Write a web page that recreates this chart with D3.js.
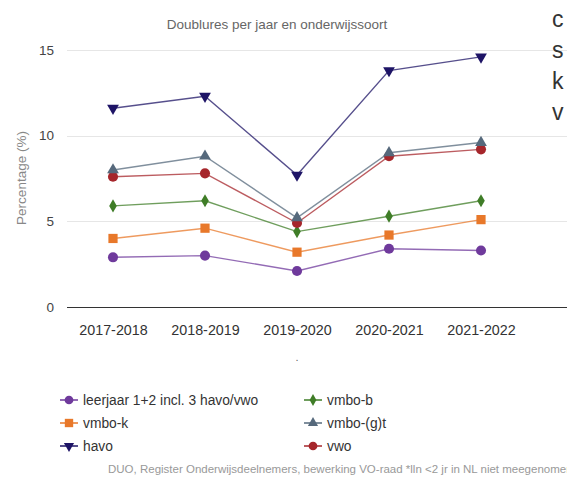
<!DOCTYPE html>
<html>
<head>
<meta charset="utf-8">
<script src="https://cdn.jsdelivr.net/npm/d3@7"></script>
<style>
  body { margin: 0; background: #fff; font-family: "Liberation Sans", Arial, sans-serif; }
  svg { display: block; }
</style>
</head>
<body>
<svg></svg>
<script>
// data
var years = ["2017-2018", "2018-2019", "2019-2020", "2020-2021", "2021-2022"];
var seriesNames = ["leerjaar 1+2 incl. 3 havo/vwo", "vmbo-b", "vmbo-k", "vmbo-(g)t", "havo", "vwo"];
var leerjaar = [2.9, 3.0, 2.1, 3.4, 3.3];
var vmboB = [5.9, 6.2, 4.4, 5.3, 6.2];
var vmboK = [4.0, 4.6, 3.2, 4.2, 5.1];
var vmboGt = [8.0, 8.8, 5.2, 9.0, 9.6];
var havo = [11.6, 12.3, 7.7, 13.8, 14.6];
var vwo = [7.6, 7.8, 4.9, 8.8, 9.2];
var yTicks = [0, 5, 10, 15];

var series = [
  { name: seriesNames[0], values: leerjaar, color: "#6f3a9c", shape: "circle" },
  { name: seriesNames[1], values: vmboB, color: "#3f7d27", shape: "diamond" },
  { name: seriesNames[2], values: vmboK, color: "#e8782a", shape: "square" },
  { name: seriesNames[3], values: vmboGt, color: "#56697c", shape: "up" },
  { name: seriesNames[4], values: havo, color: "#1e1466", shape: "down" },
  { name: seriesNames[5], values: vwo, color: "#a6262b", shape: "circle" }
];

var screen = { width: 567, height: 478 };
var margins = { top: 50, left: 67, right: 40, bottom: 171 };

var svg = d3.select("svg")
  .attr("width", screen.width)
  .attr("height", screen.height);

var xScale = d3.scalePoint()
  .domain(years)
  .range([margins.left, 527])
  .padding(0.5);

var yScale = d3.scaleLinear()
  .domain([0, 15])
  .range([307, 50]);

// title
svg.append("text")
  .attr("x", 277).attr("y", 29)
  .attr("text-anchor", "middle")
  .attr("font-size", 13.5)
  .attr("fill", "#666")
  .text("Doublures per jaar en onderwijssoort");

// gridlines
svg.append("g").selectAll("line")
  .data(yTicks)
  .enter()
  .append("line")
  .attr("x1", margins.left)
  .attr("x2", screen.width)
  .attr("y1", function(d) { return Math.round(yScale(d)) + 0.5; })
  .attr("y2", function(d) { return Math.round(yScale(d)) + 0.5; })
  .attr("stroke", function(d) { return d == 0 ? "#333" : "#e6e6e6"; })
  .attr("stroke-width", function(d) { return d == 0 ? 1.2 : 1; });

// y axis labels
var yAxis = d3.axisLeft(yScale).tickValues(yTicks).tickSize(0).tickPadding(0);
var yA = svg.append("g")
  .attr("transform", "translate(54,0)")
  .call(yAxis);
yA.select(".domain").remove();
yA.selectAll("text")
  .attr("font-family", "Liberation Sans, Arial, sans-serif")
  .attr("font-size", 13.5)
  .attr("fill", "#444");

svg.append("text")
  .attr("transform", "translate(26,178) rotate(-90)")
  .attr("text-anchor", "middle")
  .attr("font-size", 13.5)
  .attr("fill", "#888")
  .text("Percentage (%)");

// x axis labels
var xAxis = d3.axisBottom(xScale).tickSize(0).tickPadding(0);
var xA = svg.append("g")
  .attr("transform", "translate(0,325)")
  .call(xAxis);
xA.select(".domain").remove();
xA.selectAll("text")
  .attr("font-family", "Liberation Sans, Arial, sans-serif")
  .attr("font-size", 14.3)
  .attr("fill", "#333");

svg.append("text")
  .attr("x", 297).attr("y", 361)
  .attr("text-anchor", "middle")
  .attr("font-size", 11)
  .attr("fill", "#666")
  .text(".");

// marker drawing
var symbolFor = function(shape, size)
{
  if (shape == "circle") return d3.symbol().type(d3.symbolCircle).size(size || 80)();
  if (shape == "square") return d3.symbol().type(d3.symbolSquare).size(size || 85)();
  if (shape == "diamond") return d3.symbol().type(d3.symbolDiamond).size(size || 50)();
  if (shape == "up" || shape == "down") return d3.symbol().type(d3.symbolTriangle).size(size || 60)();
};

var line = d3.line()
  .x(function(d, i) { return xScale(years[i]); })
  .y(function(d) { return yScale(d); });

var plot = svg.append("g");
var drawOrder = [0, 2, 1, 5, 3, 4];
drawOrder.forEach(function(k)
{
  var s = series[k];
  var g = plot.append("g");
  g.append("path")
    .attr("d", line(s.values))
    .attr("fill", "none")
    .attr("stroke", s.color)
    .attr("stroke-opacity", 0.75)
    .attr("stroke-width", 1.4);
  g.selectAll("path.pt")
    .data(s.values)
    .enter()
    .append("path")
    .classed("pt", true)
    .attr("d", symbolFor(s.shape))
    .attr("transform", function(d, i)
    {
      var r = s.shape == "down" ? " rotate(180)" : "";
      return "translate(" + xScale(years[i]) + "," + yScale(d) + ")" + r;
    })
    .attr("fill", s.color);
});

// legend
var legend = svg.append("g");
var items = legend.selectAll("g")
  .data(series)
  .enter()
  .append("g")
  .attr("transform", function(d, i)
  {
    var col = i % 2;
    var row = Math.floor(i / 2);
    var lx = col == 0 ? 69 : 313;
    return "translate(" + lx + "," + (400 + row * 23) + ")";
  });
items.append("line")
  .attr("x1", -9).attr("x2", 9)
  .attr("stroke", function(d) { return d.color; })
  .attr("stroke-opacity", 0.75)
  .attr("stroke-width", 2);
items.append("path")
  .attr("d", function(d)
  {
    var sh = d.shape;
    return symbolFor(sh, sh == "circle" ? 60 : sh == "square" ? 70 : sh == "diamond" ? 40 : 45);
  })
  .attr("transform", function(d) { return d.shape == "down" ? "rotate(180)" : ""; })
  .attr("fill", function(d) { return d.color; });
items.append("text")
  .attr("x", 14)
  .attr("y", 5)
  .attr("font-size", 13.8)
  .attr("fill", "#333")
  .text(function(d) { return d.name; });

// source
svg.append("text")
  .attr("x", 108).attr("y", 473)
  .attr("font-size", 11.5)
  .attr("fill", "#999")
  .text("DUO, Register Onderwijsdeelnemers, bewerking VO-raad *lln <2 jr in NL niet meegenomen");

// text of page behind, cut at the right edge
var sideLetters = ["c", "s", "k", "v"];
svg.append("g").selectAll("text")
  .data(sideLetters)
  .enter()
  .append("text")
  .attr("x", 552)
  .attr("y", function(d, i) { return 27 + i * 31; })
  .attr("font-size", 23)
  .attr("fill", "#333")
  .text(function(d) { return d; });
</script>
</body>
</html>
